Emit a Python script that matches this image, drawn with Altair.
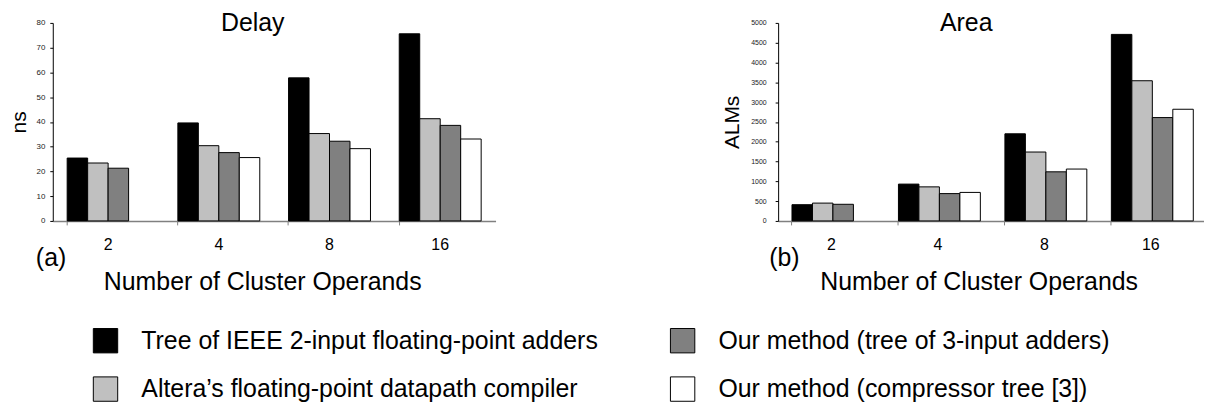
import altair as alt
import pandas as pd

operands = ["2", "4", "8", "16"]
series = [
    "Tree of IEEE 2-input floating-point adders",
    "Altera’s floating-point datapath compiler",
    "Our method (tree of 3-input adders)",
    "Our method (compressor tree [3])",
]
series_colors = ["#000000", "#c0c0c0", "#808080", "#ffffff"]

delay_tree = [25.4, 39.6, 57.8, 75.6]
delay_altera = [23.4, 30.4, 35.3, 41.3]
delay_tree3 = [21.3, 27.6, 32.2, 38.6]
delay_comp = [None, 25.6, 29.2, 33.1]

area_tree = [410, 930, 2200, 4710]
area_altera = [450, 860, 1740, 3540]
area_tree3 = [420, 690, 1240, 2610]
area_comp = [None, 720, 1310, 2820]

FONT = "Liberation Sans"


def long_df(cols):
    rows = []
    for s, vals in zip(series, cols):
        for o, v in zip(operands, vals):
            if v is not None:
                rows.append({"Operands": o, "Series": s, "Value": v})
    return pd.DataFrame(rows)


def text_layer(txt, x, y, size, align="center"):
    return alt.Chart(pd.DataFrame({"t": [txt]})).mark_text(
        font=FONT, fontSize=size, align=align, baseline="alphabetic", color="black"
    ).encode(text="t:N", x=alt.value(x), y=alt.value(y))


def panel(df, ytitle, title, tag, ymax, ystep, width, height, ylab_size,
          ylab_pad, ytitle_pad, title_x, xtitle_x, tag_x):
    bars = alt.Chart(df).mark_bar(stroke="black", strokeWidth=1).encode(
        x=alt.X(
            "Operands:N", sort=operands,
            scale=alt.Scale(domain=operands, paddingInner=0.26, paddingOuter=0.13),
            axis=alt.Axis(
                title=None, bandPosition=0, labelAngle=0, labelFont=FONT,
                labelFontSize=16, labelPadding=12, tickSize=4,
                domainColor="#808080", tickColor="#808080", labelColor="black",
                domainWidth=1.5,
            ),
        ),
        xOffset=alt.XOffset("Series:N", scale=alt.Scale(domain=series)),
        y=alt.Y(
            "Value:Q", scale=alt.Scale(domain=[0, ymax], nice=False),
            axis=alt.Axis(
                values=list(range(0, ymax + 1, ystep)), format="d", title=ytitle,
                titleFont=FONT, titleFontSize=21, titleFontWeight="normal",
                titlePadding=ytitle_pad, titleColor="black",
                labelFont=FONT, labelFontSize=ylab_size, labelColor="#222222",
                labelPadding=ylab_pad, grid=False, tickSize=3,
                domainColor="black", tickColor="black",
            ),
        ),
        color=alt.Color(
            "Series:N", scale=alt.Scale(domain=series, range=series_colors),
            legend=alt.Legend(
                title=None, orient="none", legendX=40, legendY=306,
                columns=2, symbolType="square",
                symbolSize=600, symbolStrokeColor="black", symbolStrokeWidth=1,
                labelFont=FONT, labelFontSize=25, labelLimit=0,
                labelOffset=23, rowPadding=19, columnPadding=69,
            ),
        ),
    )
    layers = [
        bars,
        text_layer(title, title_x, 8, 25),
        text_layer("Number of Cluster Operands", xtitle_x, 268, 25),
        text_layer(tag, tag_x, 244, 25, align="left"),
    ]
    return alt.layer(*layers).properties(width=width, height=height)


left = panel(
    long_df([delay_tree, delay_altera, delay_tree3, delay_comp]),
    "ns", "Delay", "(a)", 80, 10, 445, 199, 8, 5, 7, 201, 211, -17,
)
right = panel(
    long_df([area_tree, area_altera, area_tree3, area_comp]),
    "ALMs", "Area", "(b)", 5000, 500, 428, 199, 7, 9, 8, 189, 202, -9,
)

chart = alt.hconcat(left, right, spacing=284, bounds="flush").properties(
    padding={"left": 0, "top": 2, "right": 0, "bottom": 0}
).configure_view(stroke=None)

chart.save("out.html", embed_options={"renderer": "svg", "actions": False})
